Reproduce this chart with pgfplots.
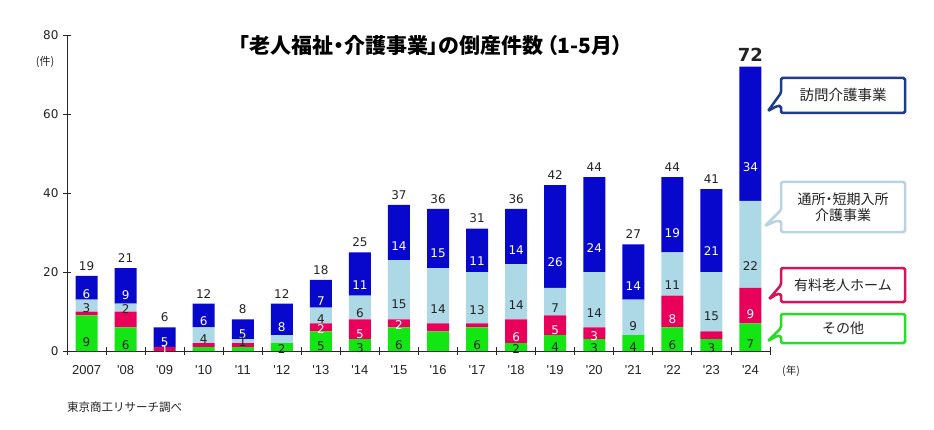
\documentclass[border=0pt]{standalone}
\usepackage{pgfplots}
\pgfplotsset{compat=1.18}
\usepackage{fontspec}
\setmainfont{Noto Sans CJK JP}
\newfontfamily\titlefont{Noto Sans CJK JP}[RawFeature=+palt]
\newfontfamily\dejavu{DejaVu Sans}
\newfontfamily\liber{Liberation Sans}
\definecolor{cBlue}{RGB}{8,8,204}
\definecolor{cLight}{RGB}{173,216,230}
\definecolor{cRed}{RGB}{232,0,90}
\definecolor{cGreen}{RGB}{20,230,20}
\definecolor{bBlue}{RGB}{30,60,140}
\definecolor{bLight}{RGB}{184,212,226}
\definecolor{bRed}{RGB}{214,20,92}
\definecolor{bGreen}{RGB}{40,220,40}
\definecolor{txt}{RGB}{35,35,35}
\pgfplotsset{
  seglab/.style={
    point meta=explicit symbolic,
    nodes near coords,
    visualization depends on={rawy \as \rawy},
    every node near coord/.append style={anchor=center, yshift={-0.9875*\rawy}, text=#1, font=\dejavu\fontsize{12}{12}\selectfont, inner sep=0pt}
  }
}
\begin{document}
\begin{tikzpicture}[x=1pt,y=1pt]
\path[use as bounding box] (0,0) rectangle (934,429);
\begin{axis}[
  at={(67pt,78pt)}, anchor=south west,
  scale only axis, width=703pt, height=316pt,
  ybar stacked, bar width=22pt,
  xmin=-0.5, xmax=17.5, ymin=0, ymax=80,
  clip=false,
  axis x line*=bottom, axis y line*=left,
  axis line style={-, black!85, line width=0.8pt},
  xtick={0,...,17},
  xticklabels={2007,{'08},{'09},{'10},{'11},{'12},{'13},{'14},{'15},{'16},{'17},{'18},{'19},{'20},{'21},{'22},{'23},{'24}},
  xtick style={draw=none},
  extra x ticks={-0.5,0.5,...,17.5},
  extra x tick labels={},
  extra x tick style={xtick style={draw=black!85, line width=0.8pt}},
  ytick={0,20,40,60,80},
  ytick style={draw=black!85, line width=0.8pt},
  major tick length=8pt, tick align=center,
  /pgf/number format/assume math mode=true,
  yticklabel style={font=\dejavu\fontsize{12}{12}\selectfont, text=txt, xshift=-1pt},
  xticklabel style={font=\liber\fontsize{13}{13}\selectfont, text=txt, yshift=-7pt},
]
\addplot[fill=cGreen, draw=none, seglab=txt] coordinates {
(0,9)[9] (1,6)[6] (2,0)[] (3,1)[] (4,1)[] (5,2)[2] (6,5)[5] (7,3)[3] (8,6)[6]
(9,5)[] (10,6)[6] (11,2)[2] (12,4)[4] (13,3)[3] (14,4)[4] (15,6)[6] (16,3)[3] (17,7)[7]};
\addplot[fill=cRed, draw=none, seglab=white] coordinates {
(0,1)[] (1,4)[] (2,1)[1] (3,1)[] (4,1)[] (5,0)[] (6,2)[2] (7,5)[5] (8,2)[2]
(9,2)[] (10,1)[] (11,6)[6] (12,5)[5] (13,3)[3] (14,0)[] (15,8)[8] (16,2)[] (17,9)[9]};
\addplot[fill=cLight, draw=none, seglab=txt] coordinates {
(0,3)[3] (1,2)[2] (2,0)[] (3,4)[4] (4,1)[1] (5,2)[] (6,4)[4] (7,6)[6] (8,15)[15]
(9,14)[14] (10,13)[13] (11,14)[14] (12,7)[7] (13,14)[14] (14,9)[9] (15,11)[11] (16,15)[15] (17,22)[22]};
\addplot[fill=cBlue, draw=none, seglab=white] coordinates {
(0,6)[6] (1,9)[9] (2,5)[5] (3,6)[6] (4,5)[5] (5,8)[8] (6,7)[7] (7,11)[11] (8,14)[14]
(9,15)[15] (10,11)[11] (11,14)[14] (12,26)[26] (13,24)[24] (14,14)[14] (15,19)[19] (16,21)[21] (17,34)[34]};
\end{axis}
\begin{axis}[
  at={(67pt,78pt)}, anchor=south west,
  scale only axis, width=703pt, height=316pt,
  xmin=-0.5, xmax=17.5, ymin=0, ymax=80,
  hide axis, clip=false]
\addplot[draw=none, mark=none, point meta=explicit symbolic, nodes near coords,
  every node near coord/.append style={anchor=south, yshift=2pt, text=txt, font=\dejavu\fontsize{12}{12}\selectfont}]
coordinates {
(0,19)[19] (1,21)[21] (2,6)[6] (3,12)[12] (4,8)[8] (5,12)[12] (6,18)[18] (7,25)[25] (8,37)[37]
(9,36)[36] (10,31)[31] (11,36)[36] (12,42)[42] (13,44)[44] (14,27)[27] (15,44)[44] (16,41)[41]
(17,72)[{\fontsize{18}{18}\selectfont\bfseries 72}]};
\end{axis}
% title and notes
\node[font=\titlefont\fontsize{21}{21}\selectfont\bfseries, text=black] at (431,383) {「老人福祉・介護事業」の倒産件数\hspace{4pt}（1-5月）};
\node[font=\fontsize{11}{11}\selectfont, text=txt] at (45,367) {(件)};
\node[font=\fontsize{10.5}{10.5}\selectfont, text=txt] at (791,58) {(年)};
\node[anchor=west, font=\fontsize{11.5}{11.5}\selectfont, text=txt, inner sep=0pt] at (67,22) {東京商工リサーチ調べ};
% callouts
\draw[bBlue, line width=2.5pt, fill=white, rounded corners=1.5pt]
  (781,351) -- (905,351) -- (905,316) -- (781,316) -- (781,323) -- (777,323) -- (768,318) -- (781,336) -- cycle;
\node[font=\fontsize{14.5}{14.5}\selectfont, text=txt] at (843,333.5) {訪問介護事業};
\draw[bLight, line width=2.5pt, fill=white, rounded corners=1.5pt]
  (781,247) -- (905,247) -- (905,197) -- (781,197) -- (781,208) -- (776,208) -- (765,203) -- (781,219) -- cycle;
\node[font=\titlefont\fontsize{14}{16}\selectfont, text=txt, align=center] at (843,222) {通所・短期入所\\介護事業};
\draw[bRed, line width=2.5pt, fill=white, rounded corners=1.5pt]
  (781,161) -- (905,161) -- (905,127) -- (781,127) -- (781,135) -- (777,135) -- (769,130) -- (781,144) -- cycle;
\node[font=\fontsize{14}{14}\selectfont, text=txt] at (843,144) {有料老人ホーム};
\draw[bGreen, line width=2.5pt, fill=white, rounded corners=1.5pt]
  (781,115) -- (905,115) -- (905,86) -- (781,86) -- (781,93) -- (777,93) -- (768,88) -- (781,101) -- cycle;
\node[font=\fontsize{14}{14}\selectfont, text=txt] at (843,100.5) {その他};
\end{tikzpicture}
\end{document}
